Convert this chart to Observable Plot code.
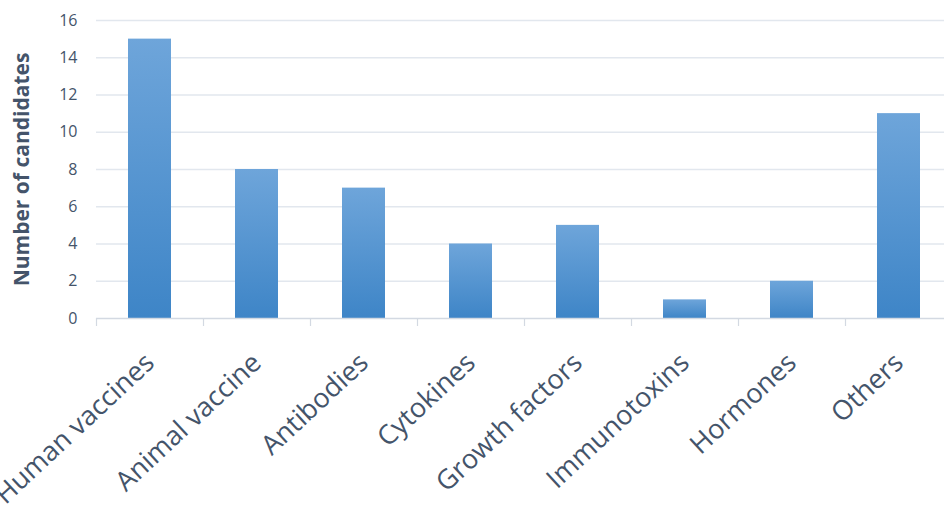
<!DOCTYPE html>
<html>
<head>
<meta charset="utf-8">
<script src="https://cdn.jsdelivr.net/npm/d3@7"></script>
<script src="https://cdn.jsdelivr.net/npm/@observablehq/plot@0.6"></script>
<style>
  html, body { margin: 0; padding: 0; background: #fff; }
  #chart svg { display: block; }
</style>
</head>
<body>
<div id="chart"></div>
<script>
// Recombinant product candidates by category
const categories = [
  "Human vaccines", "Animal vaccine", "Antibodies", "Cytokines",
  "Growth factors", "Immunotoxins", "Hormones", "Others"
];
const candidates = [15, 8, 7, 4, 5, 1, 2, 11];
const yTicks = [0, 2, 4, 6, 8, 10, 12, 14, 16];
const yTitle = "Number of candidates";

const rows = categories.map((category, i) => ({category, value: candidates[i]}));

const textColor = "#44546a";
const gridColor = "#e2e7ee";
const axisColor = "#d3d9e2";

// vertical blue gradient used by every bar
const gradientDefs = () => {
  const defs = d3.create("svg:defs");
  const g = defs.append("linearGradient")
    .attr("id", "barGrad")
    .attr("x1", 0).attr("y1", 0).attr("x2", 0).attr("y2", 1);
  g.append("stop").attr("offset", "0%").attr("stop-color", "#6ea5da");
  g.append("stop").attr("offset", "100%").attr("stop-color", "#3e85c7");
  return defs.node();
};

// short ticks below the baseline at the band boundaries
const boundaryTicks = (index, scales) => {
  const x = scales.x, y = scales.y;
  const step = x(categories[1]) - x(categories[0]);
  const xs = categories.map(c => x(c) - 0.3 * step);
  xs.push(x(categories[categories.length - 1]) + 0.7 * step);
  const y0 = y(0);
  const g = d3.create("svg:g")
    .attr("stroke", axisColor)
    .attr("stroke-width", 1.2);
  g.selectAll("line").data(xs).join("line")
    .attr("x1", d => Math.round(d) + 0.5).attr("x2", d => Math.round(d) + 0.5)
    .attr("y1", y0).attr("y2", y0 + 8);
  return g.node();
};

const chart = Plot.plot({
  width: 944,
  height: 507,
  marginTop: 20,
  marginLeft: 96,
  marginRight: 0,
  marginBottom: 189,
  style: {fontFamily: "'Open Sans', sans-serif", color: textColor, background: "#fff"},
  x: {domain: categories, range: [96, 952], paddingInner: 0.6, paddingOuter: 0.3, label: null},
  y: {domain: [0, 16], label: null},
  marks: [
    gradientDefs,
    Plot.gridY(yTicks.filter(d => d > 0), {stroke: gridColor, strokeOpacity: 1, strokeWidth: 1.5}),
    Plot.barY(rows, {x: "category", y: "value", fill: "url(#barGrad)"}),
    Plot.ruleY([0], {stroke: axisColor, strokeWidth: 1.5}),
    boundaryTicks,
    Plot.axisY(yTicks, {
      tickSize: 0, tickPadding: 19, fontSize: 16, label: null, fill: textColor
    }),
    Plot.axisX({
      tickSize: 0, tickRotate: -43, fontSize: 27, tickPadding: 40,
      textAnchor: "end", label: null, fill: textColor, dx: 0
    }),
    Plot.text([yTitle], {
      frameAnchor: "left", textAnchor: "middle", dx: -74, rotate: -90,
      fontSize: 21, fontWeight: "bold", fill: textColor
    })
  ]
});

document.getElementById("chart").append(chart);
</script>
</body>
</html>
